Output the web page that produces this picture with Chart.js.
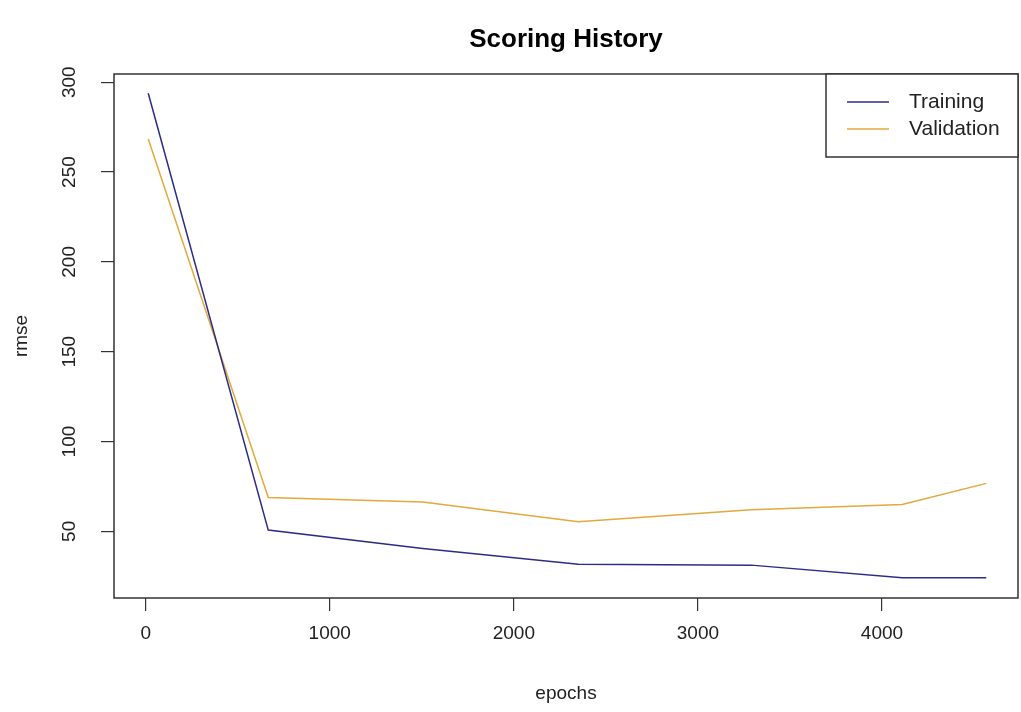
<!DOCTYPE html>
<html>
<head>
<meta charset="utf-8">
<script src="https://cdn.jsdelivr.net/npm/chart.js@4"></script>
<style>
  html, body { margin: 0; padding: 0; background: #fff; }
  #wrap { width: 1021px; height: 712px; }
</style>
</head>
<body>
<div id="wrap"><canvas id="scoring" width="1021" height="712"></canvas></div>
<script>
// scoring history
var epochs = [14, 666, 1505, 2350, 3290, 4110, 4567];
var training = [293.9, 50.7, 40.5, 31.7, 31.2, 24.2, 24.2];
var validation = [268.4, 68.9, 66.3, 55.3, 62.0, 65.0, 76.7];
var xTicks = [0, 1000, 2000, 3000, 4000];
var yTicks = [50, 100, 150, 200, 250, 300];

var fam = "'Liberation Sans', Arial, sans-serif";
var ink = '#333333';

function pts(ys) {
  return epochs.map(function(x, i) { return {x: x, y: ys[i]}; });
}

// box, rotated y labels, title and legend, R style
var rDecor = {
  id: 'rDecor',
  afterDraw: function(chart) {
    var ctx = chart.ctx;
    var a = chart.chartArea;
    var ys = chart.scales.y;
    ctx.save();
    ctx.strokeStyle = ink;
    ctx.lineWidth = 1.5;
    ctx.strokeRect(a.left, a.top, a.right - a.left, a.bottom - a.top);

    ctx.fillStyle = '#222';
    ctx.font = '19px ' + fam;
    ctx.textAlign = 'center';
    ctx.textBaseline = 'middle';
    yTicks.forEach(function(v) {
      var py = ys.getPixelForValue(v);
      ctx.save();
      ctx.translate(70, py);
      ctx.rotate(-Math.PI / 2);
      ctx.fillText(String(v), 0, 0);
      ctx.restore();
    });

    ctx.font = 'bold 26px ' + fam;
    ctx.fillStyle = '#000';
    ctx.fillText('Scoring History', (a.left + a.right) / 2, 40);

    // legend
    var lx = 826, ly = a.top, lw = a.right - lx, lh = 83;
    ctx.fillStyle = '#fff';
    ctx.fillRect(lx, ly, lw, lh);
    ctx.strokeStyle = ink;
    ctx.lineWidth = 1.5;
    ctx.strokeRect(lx, ly, lw, lh);
    ctx.font = '21px ' + fam;
    ctx.textAlign = 'left';
    chart.data.datasets.forEach(function(ds, i) {
      var yy = 102 + i * 27;
      ctx.strokeStyle = ds.borderColor;
      ctx.lineWidth = 1.5;
      ctx.beginPath();
      ctx.moveTo(847, yy);
      ctx.lineTo(889, yy);
      ctx.stroke();
      ctx.fillStyle = '#222';
      ctx.fillText(ds.label, 909, yy);
    });
    ctx.restore();
  }
};

var chart = new Chart(document.getElementById('scoring').getContext('2d'), {
  type: 'scatter',
  data: {
    datasets: [{
      label: 'Training',
      data: pts(training),
      showLine: true,
      borderColor: '#2c2c88',
      backgroundColor: '#2c2c88',
      borderWidth: 1.5,
      pointRadius: 0,
      tension: 0
    }, {
      label: 'Validation',
      data: pts(validation),
      showLine: true,
      borderColor: '#e3a93c',
      backgroundColor: '#e3a93c',
      borderWidth: 1.5,
      pointRadius: 0,
      tension: 0
    }]
  },
  options: {
    responsive: false,
    animation: false,
    layout: { padding: { top: 74, right: 3, left: 0, bottom: 0 } },
    plugins: {
      legend: { display: false },
      title: { display: false },
      tooltip: { enabled: false }
    },
    scales: {
      x: {
        type: 'linear',
        min: -172,
        max: 4739,
        afterFit: function(s) { s.height = 114; },
        afterBuildTicks: function(s) { s.ticks = xTicks.map(function(v) { return {value: v}; }); },
        grid: { drawOnChartArea: false, drawTicks: true, tickLength: 13, color: ink, lineWidth: 1.2 },
        border: { display: false },
        ticks: {
          color: '#222', font: { family: fam, size: 19 }, padding: 11, maxRotation: 0,
          callback: function(v) { return String(v); }
        },
        title: { display: true, text: 'epochs', color: '#222', font: { family: fam, size: 19 }, padding: { top: 0, bottom: 7 } }
      },
      y: {
        type: 'linear',
        min: 12.9,
        max: 304.6,
        afterFit: function(s) { s.width = 114; },
        afterBuildTicks: function(s) { s.ticks = yTicks.map(function(v) { return {value: v}; }); },
        grid: { drawOnChartArea: false, drawTicks: true, tickLength: 13, color: ink, lineWidth: 1.2 },
        border: { display: false },
        ticks: { display: false },
        title: { display: true, text: 'rmse', color: '#222', font: { family: fam, size: 19 }, padding: { top: 10, bottom: 0 } }
      }
    }
  },
  plugins: [rDecor]
});
</script>
</body>
</html>
